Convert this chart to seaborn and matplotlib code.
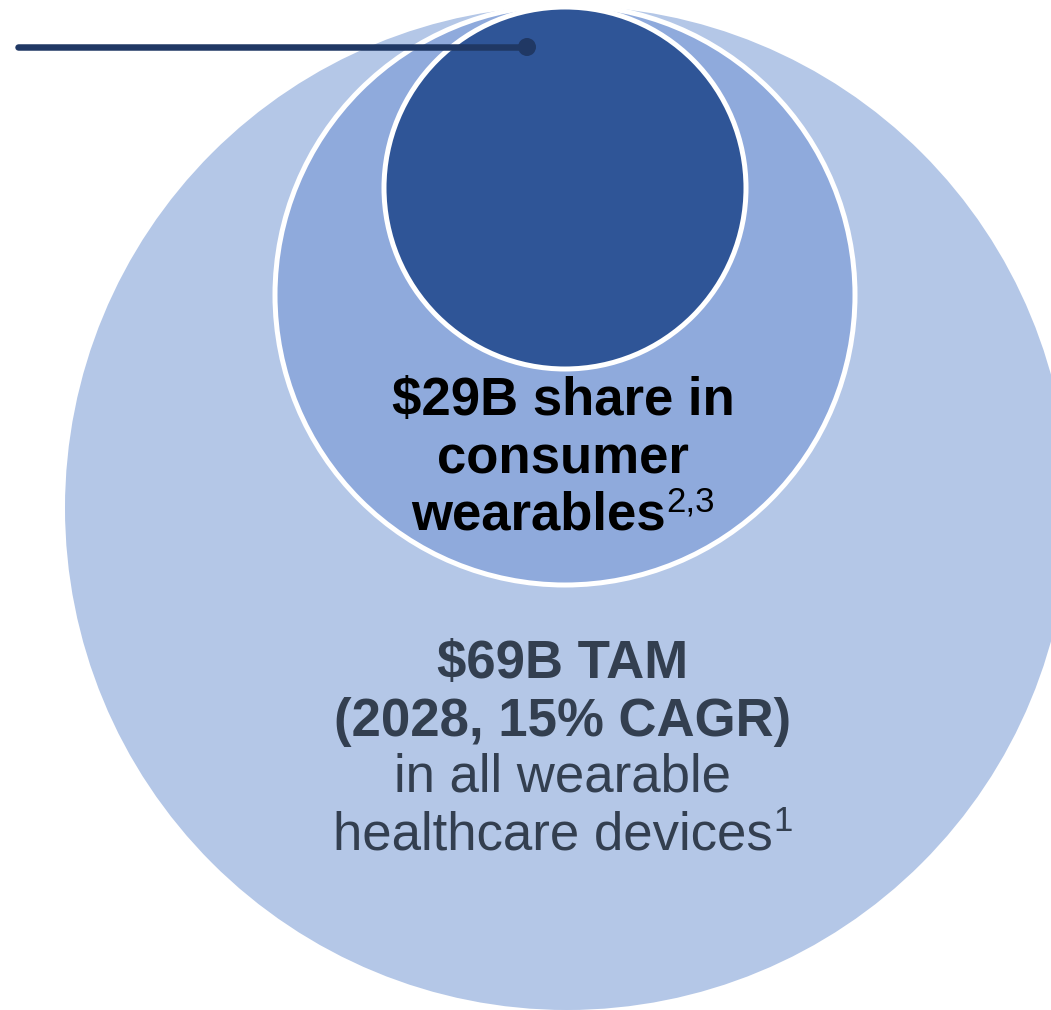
import matplotlib
matplotlib.use("Agg")
import matplotlib.pyplot as plt
from matplotlib.patches import Circle
import seaborn as sns
import pandas as pd

# Market tiers, outermost first
tiers = ["TAM", "Consumer wearables", "Core"]
market_value_b = [69, 29, None]
tier_colors = ["#b4c7e7", "#8faadc", "#2f5597"]
tier_radius = [502, 290, 181]
tier_center = [(567, 508), (565, 295), (565, 188)]

inner_lines = ["$29B share in", "consumer", "wearables"]
inner_sup = "2,3"
outer_lines = ["$69B TAM", "(2028, 15% CAGR)", "in all wearable", "healthcare devices"]
outer_bold = [True, True, False, False]
outer_sup = "1"

W, H = 1051, 1010
sns.set_theme(style="white")
plt.rcParams["font.family"] = ["Liberation Sans", "DejaVu Sans"]

fig = plt.figure(figsize=(W / 100, H / 100), dpi=100)
ax = fig.add_axes([0, 0, 1, 1])
ax.set_xlim(0, W)
ax.set_ylim(H, 0)
ax.set_aspect("equal")
ax.axis("off")

px = 72 / 100  # points per pixel

for i, (r, c, col) in enumerate(zip(tier_radius, tier_center, tier_colors)):
    ax.add_patch(Circle(c, r, facecolor=col,
                        edgecolor="white" if i > 0 else "none",
                        linewidth=5 * px, zorder=1 + i))

# leader line ending in a dot on the core circle
leader = pd.DataFrame({"x": [18, 527], "y": [47, 47]})
sns.lineplot(data=leader, x="x", y="y", ax=ax, color="#203864",
             linewidth=6.5 * px, zorder=10, legend=False)
sns.scatterplot(data=leader.iloc[[1]], x="x", y="y", ax=ax, color="#203864",
                s=(18 * px) ** 2, edgecolor="none", zorder=11, legend=False)
ax.set_xlabel("")
ax.set_ylabel("")

renderer = fig.canvas.get_renderer()


def centered_line(text, y, size, weight, color, sup=None, xc=563):
    t = ax.text(0, y, text, fontsize=size, fontweight=weight, color=color,
                ha="left", va="baseline", zorder=20)
    w = t.get_window_extent(renderer).width
    s = None
    sw = 0
    if sup:
        s = ax.text(0, y - size / px * 0.36, sup, fontsize=size * 0.66,
                    fontweight="normal", color=color, ha="left",
                    va="baseline", zorder=20)
        sw = s.get_window_extent(renderer).width + 1
    x0 = xc - (w + sw) / 2
    t.set_x(x0)
    if s is not None:
        s.set_x(x0 + w + 1)


inner_base = [415, 473, 530]
for j, line in enumerate(inner_lines):
    centered_line(line, inner_base[j], 38, "bold", "black",
                  sup=inner_sup if j == len(inner_lines) - 1 else None)

outer_base = [678, 736, 792, 850]
for j, line in enumerate(outer_lines):
    centered_line(line, outer_base[j], 38, "bold" if outer_bold[j] else "normal",
                  "#333f50", sup=outer_sup if j == len(outer_lines) - 1 else None)

fig.savefig("out.png", dpi=100)
